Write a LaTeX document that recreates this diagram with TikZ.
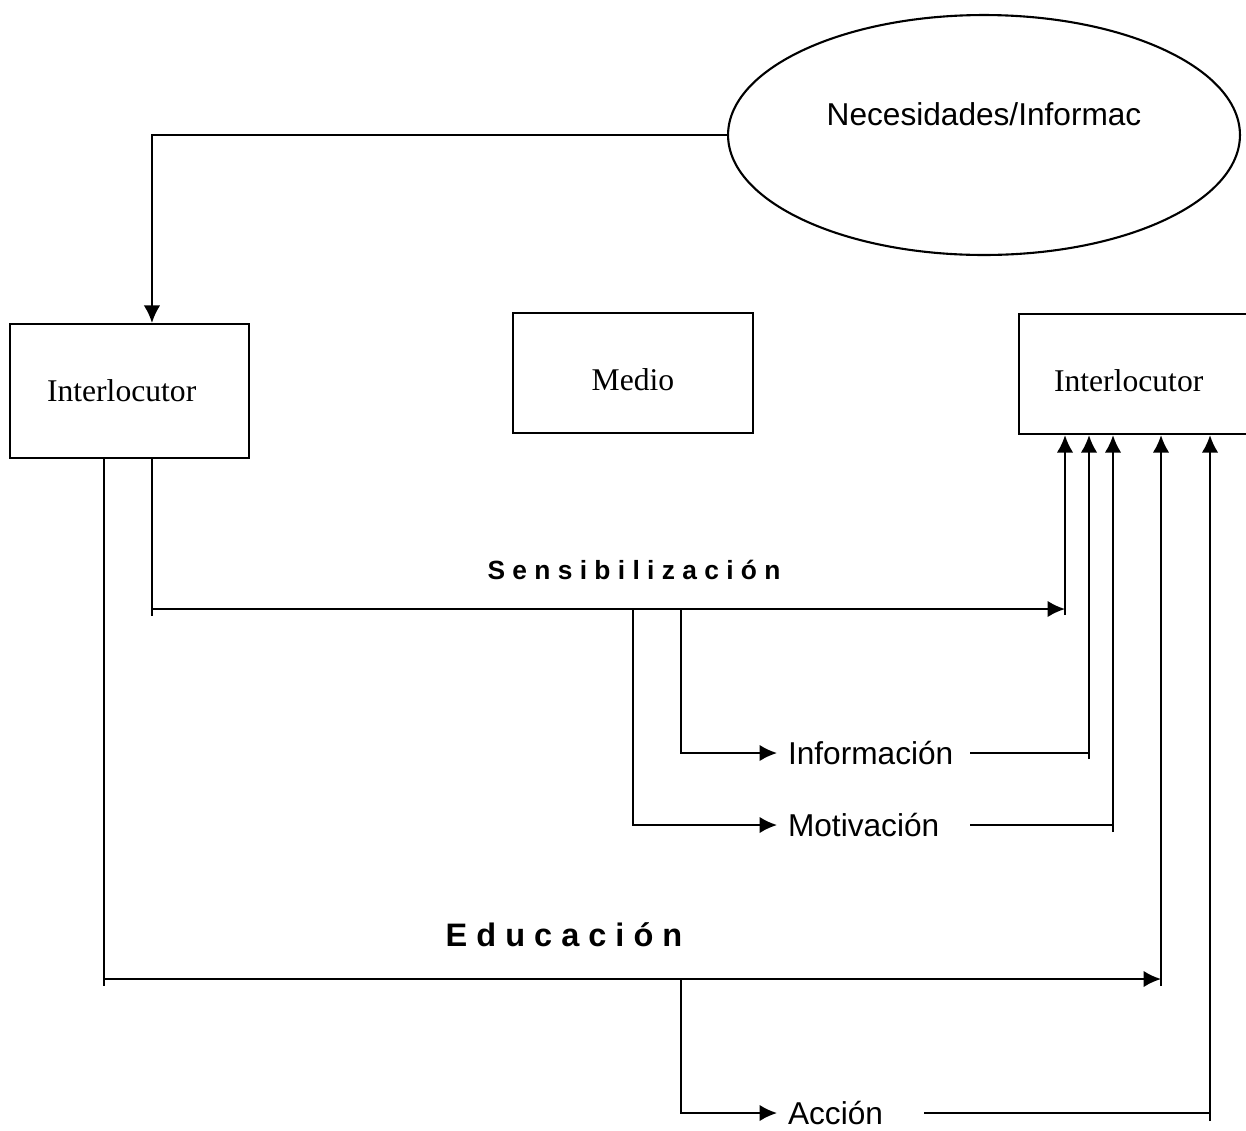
\documentclass[tikz,border=0pt]{standalone}
\usepackage{fontspec}
\setmainfont{Liberation Serif}
\setsansfont{Liberation Sans}
\usetikzlibrary{%
  arrows.meta,%
  calc, %
  shapes.geometric,% wg. ellipse
  positioning% wg. " of "
}

\begin{document}
\begin{tikzpicture}[
    x=0.02cm,y=-0.02cm,
    >={Latex[length=3.5mm,width=3.3mm]},line width=1.2pt,
    box/.style={rectangle,draw,font=\rmfamily\fontsize{18}{21}\selectfont},
    lbl/.style={anchor=west,inner xsep=0.2cm,inner ysep=1pt,text width=3.42cm,align=left,
        font=\sffamily\fontsize{18}{21}\selectfont},
    flow/.style={font=\sffamily\bfseries\fontsize{15}{18}\selectfont}
  ]

    \useasboundingbox (0,0) rectangle (1246,1130);

    \node (ilA) [box,minimum width=4.78cm,minimum height=2.68cm,text width=3.3cm,
        inner xsep=0.74cm,align=left] at (129.5,391) {Interlocutor};
    \node (medio) [box,minimum width=4.8cm,minimum height=2.4cm,text height=20pt] at (633,373) {Medio};
    \node (ilB) [box,anchor=north west,minimum height=2.4cm,text width=3.64cm,
        inner xsep=0.7cm,text height=20pt] at (1018,313) {Interlocutor};
    \node (need) [ellipse,draw,minimum width=10.24cm,minimum height=4.8cm,text depth=24pt,
        font=\sffamily\fontsize{18}{21}\selectfont] at (984,135) {Necesidades/Informac};

    \node (sens) [flow] at (634,570) {S e n s i b i l i z a c i ó n};
    \node (edu) [flow,font=\sffamily\bfseries\fontsize{18.5}{22}\selectfont] at (564,935) {E d u c a c i ó n};
    \node (info)   [lbl] at (777,753) {Información};
    \node (motiv)  [lbl] at (777,825) {Motivación};
    \node (accion) [lbl,text width=2.5cm] at (777,1113) {Acción};

    \coordinate (sA) at ($(ilA.south west)+(143,0)$);
    \coordinate (eA) at ($(ilA.south west)+(95,0)$);
    \coordinate (sL) at (153,609);
    \coordinate (sR) at (1065,609);
    \coordinate (iT) at (681,609);
    \coordinate (iR) at (1089,753);
    \coordinate (mT) at (633,609);
    \coordinate (mR) at (1113,825);
    \coordinate (eL) at (105,979);
    \coordinate (eR) at (1161,979);
    \coordinate (aT) at (681,979);
    \coordinate (aR) at (1210,1113);

    % Necesidades -> Interlocutor
    \draw[->] (need.west) -| ($(ilA.north west)+(143,0)$);

    % Sensibilizacion
    \draw (sA) -- ++(0,157);
    \draw[->] (sL) -- (sR);
    \draw[->] ($(sR)+(0,6)$) -- (sR |- ilB.south);
    \draw[->] (iT) |- (info.west);
    \draw (info.east) -- (iR);
    \draw[->] ($(iR)+(0,6)$) -- (iR |- ilB.south);
    \draw[->] (mT) |- (motiv.west);
    \draw (motiv.east) -- (mR);
    \draw[->] ($(mR)+(0,7)$) -- (mR |- ilB.south);

    % Educacion
    \draw (eA) -- ++(0,527);
    \draw[->] (eL) -- (eR);
    \draw[->] ($(eR)+(0,7)$) -- (eR |- ilB.south);
    \draw[->] (aT) |- (accion.west);
    \draw (accion.east) -- (aR);
    \draw[->] ($(aR)+(0,8)$) -- (aR |- ilB.south);
\end{tikzpicture}
\end{document}
